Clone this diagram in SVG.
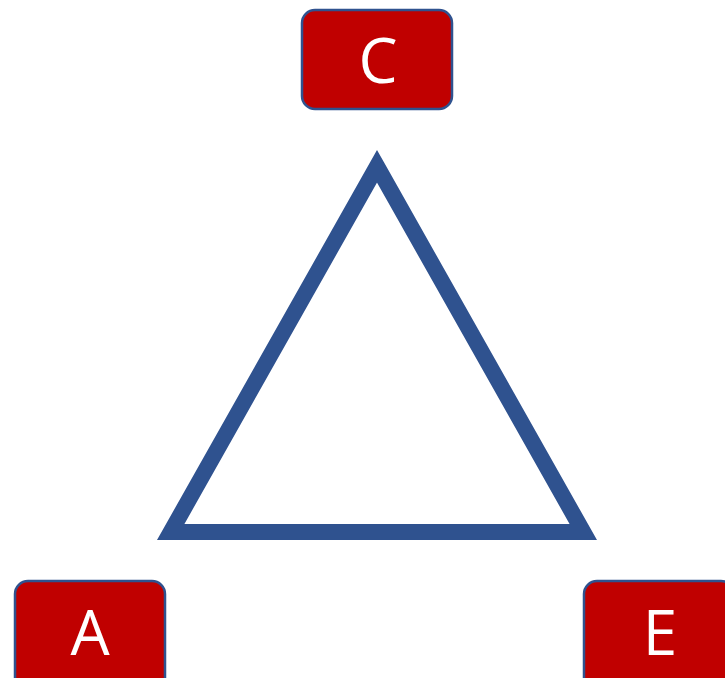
<svg xmlns="http://www.w3.org/2000/svg" width="725" height="678" viewBox="0 0 725 678">
<style>
.box{fill:#C00000;stroke:#2F528F;stroke-width:2.5}
.lbl{fill:#FFFFFF;font-family:"Open Sans","Liberation Sans",sans-serif;font-size:62px;text-anchor:middle}
.tri{fill:none;stroke:#2F528F;stroke-width:16;stroke-linejoin:miter;stroke-miterlimit:10}
</style>
<rect width="725" height="678" fill="#FFFFFF"/>
<g id="connectors">
<polygon class="tri" points="377,166.3 583.3,532 170.7,532"/>
</g>
<g id="node-C">
<rect class="box" x="302" y="10" width="150" height="99" rx="13"/>
<text class="lbl" x="378" y="83">C</text>
</g>
<g id="node-A">
<rect class="box" x="15" y="581" width="150" height="110" rx="13"/>
<text class="lbl" x="90" y="655">A</text>
</g>
<g id="node-E">
<rect class="box" x="584" y="581" width="150" height="110" rx="13"/>
<text class="lbl" x="660" y="655">E</text>
</g>
</svg>
